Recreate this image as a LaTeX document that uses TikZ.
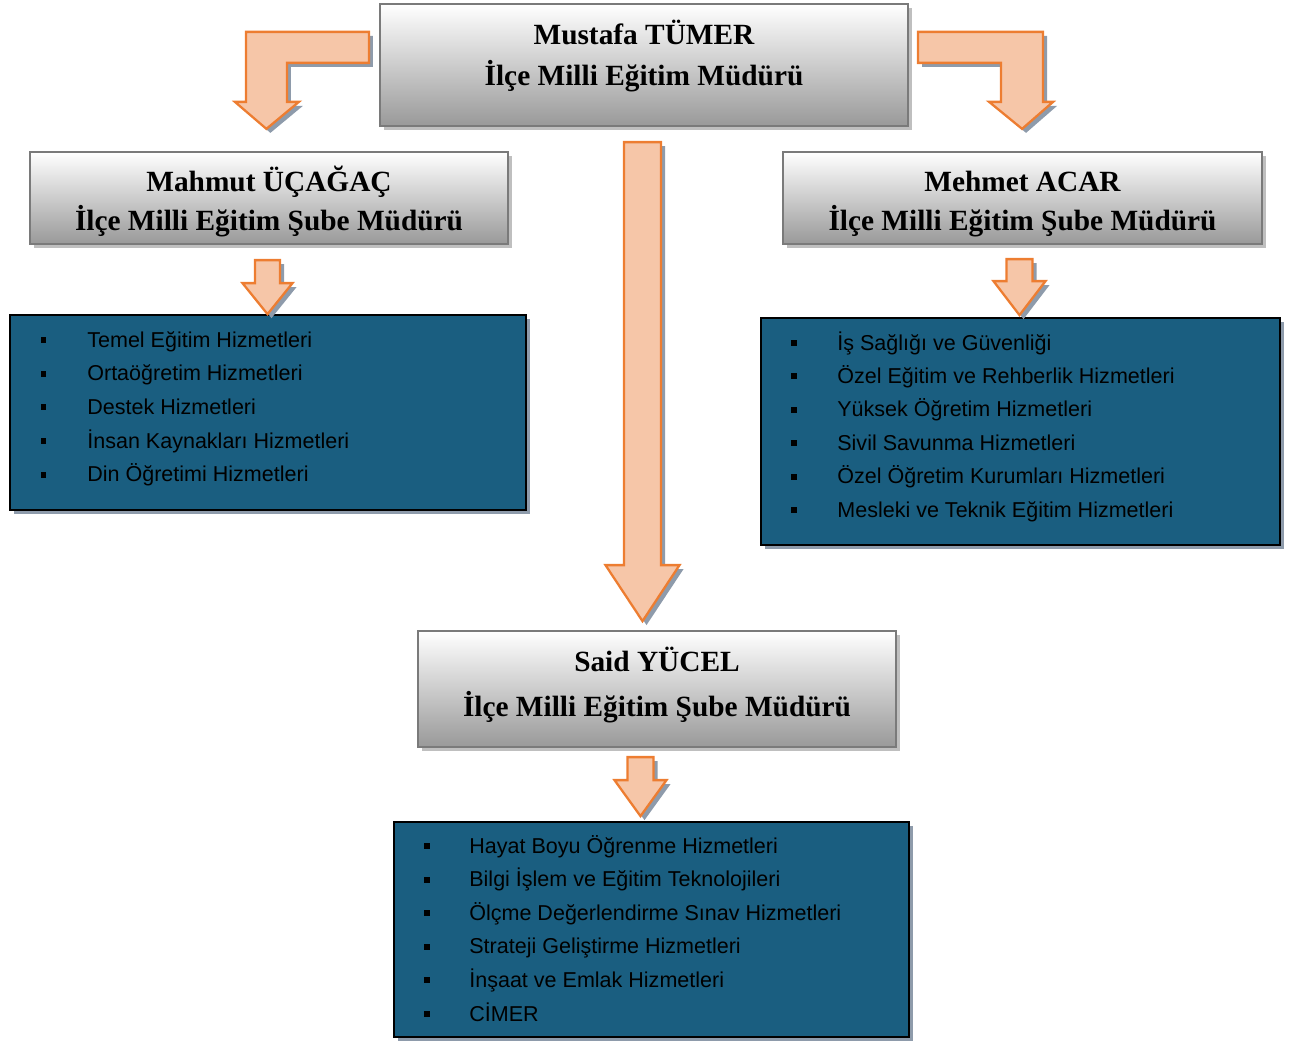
\documentclass[tikz,border=0pt]{standalone}
\usepackage{fontspec}
\setmainfont{Liberation Serif}
\newfontfamily\listfont{Liberation Sans}
\usetikzlibrary{shadows}

\definecolor{arrowfill}{HTML}{F6C6A8}
\definecolor{arrowline}{HTML}{ED7D31}
\definecolor{shadowblue}{HTML}{8E9BAB}
\definecolor{boxline}{HTML}{7A7A7A}
\definecolor{listblue}{HTML}{1A5E80}

% block arrow pointing down: anchor, x-offset, top, head base, tip, half shaft
\newcommand{\downblock}[6]{%
\draw[blockarrow, shift={(#1)}] (#2-#6,#3) -- (#2+#6,#3) -- (#2+#6,#4) -- (#2+2*#6,#4) -- (#2,#5) -- (#2-2*#6,#4) -- (#2-#6,#4) -- cycle;}

\tikzset{
  graybox/.style={draw=boxline, line width=1.3pt, top color=white, bottom color=black!40,
    drop shadow={shadow xshift=0.08cm, shadow yshift=-0.08cm, fill=black!25, opacity=1}},
  bluebox/.style={draw=black, line width=1.6pt, fill=listblue,
    drop shadow={shadow xshift=0.08cm, shadow yshift=-0.08cm, fill=shadowblue, opacity=1}},
  blockarrow/.style={draw=arrowline, line width=1.3pt, fill=arrowfill, line join=miter,
    drop shadow={shadow xshift=0.08cm, shadow yshift=-0.08cm, fill=shadowblue, opacity=1}},
  nametext/.style={anchor=base, inner sep=0pt, font=\fontsize{16.7}{20}\selectfont\bfseries},
  itemtext/.style={anchor=base west, inner sep=0pt, font=\listfont\fontsize{12.25}{14}\selectfont},
  itembullet/.style={fill=black, inner sep=0pt, minimum size=0.12cm}
}

\begin{document}
\begin{tikzpicture}[x=0.02cm, y=-0.02cm]
\useasboundingbox (0,0) rectangle (1296,1041);

% boxes
\node[graybox, minimum width=10.56cm, minimum height=2.44cm] (tumer) at (644,65) {};
\node[graybox, minimum width=9.56cm, minimum height=1.84cm] (mahmut) at (269,198) {};
\node[graybox, minimum width=9.58cm, minimum height=1.84cm] (mehmet) at (1022.5,198) {};
\node[graybox, minimum width=9.56cm, minimum height=2.32cm] (said) at (657,689) {};
\node[bluebox, minimum width=10.32cm, minimum height=3.9cm] (leftlist) at (268,412.5) {};
\node[bluebox, minimum width=10.38cm, minimum height=4.54cm] (rightlist) at (1020.5,431.5) {};
\node[bluebox, minimum width=10.3cm, minimum height=4.3cm] (bottomlist) at (651.5,929.5) {};

% names
\node[nametext] (tumername) at (644,45) {Mustafa TÜMER};
\node[nametext] (tumertitle) at (644,85) {İlçe Milli Eğitim Müdürü};
\node[nametext] (mahmutname) at (269,191) {Mahmut ÜÇAĞAÇ};
\node[nametext] (mahmuttitle) at (269,230) {İlçe Milli Eğitim Şube Müdürü};
\node[nametext] (mehmetname) at (1022.5,191) {Mehmet ACAR};
\node[nametext] (mehmettitle) at (1022.5,230) {İlçe Milli Eğitim Şube Müdürü};
\node[nametext] (saidname) at (657,671) {Said YÜCEL};
\node[nametext] (saidtitle) at (657,716) {İlçe Milli Eğitim Şube Müdürü};

% arrows
\draw[blockarrow, shift={(tumer.north west)}] (-10,29) -- (-10,60) -- (-92,60) -- (-92,99) -- (-80,99) -- (-112.5,126) -- (-144,99) -- (-133,99) -- (-133,29) -- cycle;
\draw[blockarrow, shift={(tumer.north east)}] (9,29) -- (134,29) -- (134,99) -- (144,99) -- (113,126) -- (80,99) -- (92,99) -- (92,60) -- (9,60) -- cycle;
\downblock{tumer.south}{-1.5}{15}{438}{494}{18.5}
\downblock{mahmut.south}{-1.5}{15}{38}{69}{12.5}
\downblock{mehmet.south}{-3}{14}{36}{70}{13}
\downblock{said.south}{-16.5}{9}{32}{68}{13}

% lists
\foreach \t [count=\i] in {Temel Eğitim Hizmetleri, Ortaöğretim Hizmetleri, Destek Hizmetleri, İnsan Kaynakları Hizmetleri, Din Öğretimi Hizmetleri} {
  \node[itembullet] (lb\i) at (43.5,306.3+33.7*\i) {};
  \node[itemtext] (lt\i) at (87,313.3+33.7*\i) {\t};
}
\foreach \t [count=\i] in {İş Sağlığı ve Güvenliği, Özel Eğitim ve Rehberlik Hizmetleri, Yüksek Öğretim Hizmetleri, Sivil Savunma Hizmetleri, Özel Öğretim Kurumları Hizmetleri, Mesleki ve Teknik Eğitim Hizmetleri} {
  \node[itembullet] (rb\i) at (794,309.6+33.4*\i) {};
  \node[itemtext] (rt\i) at (837,316.6+33.4*\i) {\t};
}
\foreach \t [count=\i] in {Hayat Boyu Öğrenme Hizmetleri, Bilgi İşlem ve Eğitim Teknolojileri, Ölçme Değerlendirme Sınav Hizmetleri, Strateji Geliştirme Hizmetleri, İnşaat ve Emlak Hizmetleri, CİMER} {
  \node[itembullet] (bb\i) at (427,812.4+33.6*\i) {};
  \node[itemtext] (bt\i) at (469,819.4+33.6*\i) {\t};
}
\end{tikzpicture}
\end{document}
